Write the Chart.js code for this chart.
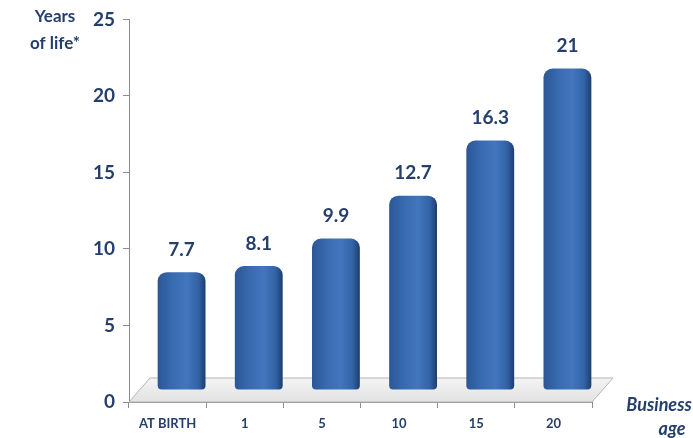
<!DOCTYPE html>
<html lang="en">
<head>
    <meta charset="UTF-8">
    <title>Years of life by business age</title>
    <script src="https://cdn.jsdelivr.net/npm/chart.js@4"></script>
    <style>
        html, body { margin: 0; padding: 0; background: #fff; }
        #wrap { width: 693px; height: 438px; position: relative; }
    </style>
</head>
<body>
    <div id="wrap"><canvas id="lifeChart"></canvas></div>

    <script>
        // chart data
        const categories = ['AT BIRTH', '1', '5', '10', '15', '20'];
        const yearsOfLife = [7.7, 8.1, 9.9, 12.7, 16.3, 21];
        const yTicks = [0, 5, 10, 15, 20, 25];

        const navy = '#243F6B';
        const axisGray = '#8C8C8C';
        const depth = { x: 14, y: -12 };   // 3d offset for the bars

        // gradient across each bar so it looks a bit rounded
        function barFill(context) {
            const chart = context.chart;
            const xs = chart.scales.x;
            if (!chart.chartArea || !xs) return '#3A6DB3';
            const cx = xs.getPixelForValue(context.dataIndex);
            const w = (chart.chartArea.width / categories.length) * 0.62;
            const g = chart.ctx.createLinearGradient(cx - w / 2, 0, cx + w / 2, 0);
            g.addColorStop(0, '#2B5796');
            g.addColorStop(0.3, '#386AAF');
            g.addColorStop(0.6, '#4276BD');
            g.addColorStop(0.85, '#3363A6');
            g.addColorStop(1, '#1C3D6D');
            return g;
        }

        // floor + shift bars back into it
        const floorPlugin = {
            id: 'floor',
            beforeDatasetsDraw(chart) {
                const { ctx, chartArea: a } = chart;
                const dx = 21, dy = 24;
                ctx.save();
                const g = ctx.createLinearGradient(0, a.bottom - dy, 0, a.bottom);
                g.addColorStop(0, '#F4F4F4');
                g.addColorStop(1, '#E2E2E2');
                ctx.beginPath();
                ctx.moveTo(a.left, a.bottom);
                ctx.lineTo(a.right, a.bottom);
                ctx.lineTo(a.right + dx, a.bottom - dy);
                ctx.lineTo(a.left + dx, a.bottom - dy);
                ctx.closePath();
                ctx.fillStyle = g;
                ctx.fill();
                ctx.strokeStyle = '#B5B5B5';
                ctx.lineWidth = 1;
                ctx.stroke();
                ctx.restore();

                ctx.save();
                ctx.translate(depth.x, depth.y);
            },
            afterDatasetsDraw(chart) {
                chart.ctx.restore();
            }
        };

        // value labels above the bars
        const valueLabels = {
            id: 'valueLabels',
            afterDatasetsDraw(chart) {
                const ctx = chart.ctx;
                const meta = chart.getDatasetMeta(0);
                ctx.save();
                ctx.font = 'bold 19px Lato, "Open Sans", sans-serif';
                ctx.fillStyle = navy;
                ctx.textAlign = 'center';
                ctx.textBaseline = 'bottom';
                meta.data.forEach((bar, i) => {
                    ctx.fillText(String(yearsOfLife[i]), bar.x + depth.x, bar.y + depth.y - 13);
                });

                // axis titles
                ctx.font = 'bold 17px Lato, "Open Sans", sans-serif';
                ctx.textBaseline = 'middle';
                ctx.fillText('Years', 55, 17);
                ctx.fillText('of life*', 55, 44);
                ctx.font = 'italic bold 18px Lato, "Open Sans", sans-serif';
                ctx.fillText('Business', 659, 405);
                ctx.fillText('age', 672, 429);
                ctx.restore();
            }
        };

        new Chart(document.getElementById('lifeChart'), {
            type: 'bar',
            data: {
                labels: categories,
                datasets: [{
                    data: yearsOfLife,
                    backgroundColor: barFill,
                    borderRadius: { topLeft: 9, topRight: 9, bottomLeft: 4, bottomRight: 4 },
                    borderSkipped: false,
                    barPercentage: 0.62,
                    categoryPercentage: 1
                }]
            },
            options: {
                responsive: true,
                maintainAspectRatio: false,
                animation: false,
                events: [],
                layout: { padding: { top: 18, right: 101, left: 0, bottom: 0 } },
                plugins: {
                    legend: { display: false },
                    tooltip: { enabled: false }
                },
                scales: {
                    x: {
                        grid: {
                            offset: true,
                            drawOnChartArea: false,
                            tickLength: 6,
                            color: axisGray
                        },
                        border: { color: axisGray },
                        ticks: {
                            color: navy,
                            padding: 8,
                            font: { family: 'Lato, "Open Sans", sans-serif', size: 13, weight: 'bold' }
                        },
                        afterFit(scale) { scale.height = 36; }
                    },
                    y: {
                        min: yTicks[0],
                        max: yTicks[yTicks.length - 1],
                        afterBuildTicks(scale) {
                            scale.ticks = yTicks.map(v => ({ value: v }));
                        },
                        grid: {
                            drawOnChartArea: false,
                            tickLength: 6,
                            color: axisGray
                        },
                        border: { color: axisGray },
                        ticks: {
                            color: navy,
                            padding: 8,
                            font: { family: 'Lato, "Open Sans", sans-serif', size: 19, weight: 'bold' }
                        },
                        afterFit(scale) { scale.width = 129; }
                    }
                }
            },
            plugins: [floorPlugin, valueLabels]
        });
    </script>
</body>
</html>
